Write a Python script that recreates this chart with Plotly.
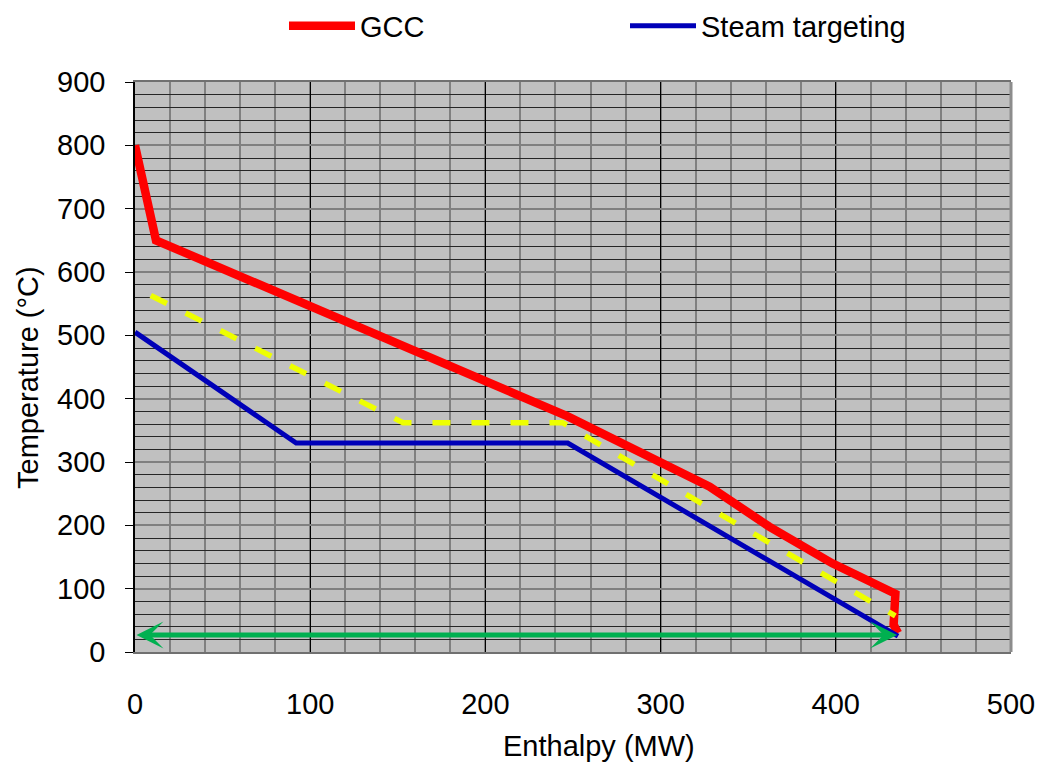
import plotly.graph_objects as go

# Grand composite curve (GCC)
gcc_h = [0, 12, 247, 328, 362, 398, 434, 433, 435.5]
gcc_t = [800, 650, 372, 261, 198, 140, 92, 43, 30]

# Steam targeting profile
steam_h = [0, 92, 247, 435.5]
steam_t = [505, 330, 330, 25]

# Shifted steam profile (dashed)
shift_h = [9, 153, 244, 434]
shift_t = [563, 362, 362, 57]

# Heat recovery span (double arrow)
span_h = [0, 435]
span_t = 27

x_ticks = [0, 100, 200, 300, 400, 500]
y_ticks = [0, 100, 200, 300, 400, 500, 600, 700, 800, 900]

FONT = "Liberation Sans, Arial, sans-serif"
FS = 29

fig = go.Figure()
fig.add_trace(go.Scatter(x=gcc_h, y=gcc_t, mode="lines", name="GCC",
                         line=dict(color="#FF0000", width=8.5)))
fig.add_trace(go.Scatter(x=steam_h, y=steam_t, mode="lines", name="Steam targeting",
                         line=dict(color="#0000B8", width=5)))
fig.add_trace(go.Scatter(x=shift_h, y=shift_t, mode="lines", showlegend=False,
                         line=dict(color="#EEFF00", width=5.5, dash="18px,21px")))

# double-headed arrow along the enthalpy span
fig.add_annotation(x=span_h[1], y=span_t, ax=span_h[0], ay=span_t,
                   xref="x", yref="y", axref="x", ayref="y", text="",
                   showarrow=True, arrowside="end+start",
                   arrowhead=3, startarrowhead=3,
                   arrowsize=0.9, startarrowsize=0.9,
                   arrowwidth=5, arrowcolor="#00B050")

# axis titles
fig.add_annotation(text="Temperature (°C)", xref="paper", yref="paper",
                   x=(28 - 135) / 876, y=(652 - 378) / 570, textangle=-90,
                   showarrow=False, xanchor="center", yanchor="middle",
                   font=dict(family=FONT, size=FS, color="black"))
fig.add_annotation(text="Enthalpy (MW)", xref="paper", yref="paper",
                   x=(599 - 135) / 876, y=(652 - 746) / 570,
                   showarrow=False, xanchor="center", yanchor="middle",
                   font=dict(family=FONT, size=FS, color="black"))

# plot frame: right edge
fig.add_shape(type="line", xref="paper", yref="paper", x0=1, x1=1, y0=0, y1=1,
              line=dict(color="#8C8C8C", width=3), layer="above")

fig.update_layout(
    width=1040, height=767,
    margin=dict(l=135, r=29, t=82, b=115, autoexpand=False),
    paper_bgcolor="white",
    plot_bgcolor="#C0C0C0",
    font=dict(family=FONT, size=FS, color="black"),
    legend=dict(orientation="h", xref="container", yref="container",
                x=284 / 1040, y=1 - 26 / 767, xanchor="left", yanchor="middle",
                itemwidth=66, entrywidth=260,
                font=dict(family=FONT, size=FS, color="black"),
                bgcolor="rgba(0,0,0,0)"),
    xaxis=dict(range=[0, 500], tickvals=x_ticks, ticks="", ticklabelstandoff=25,
               showgrid=True, gridcolor="black", gridwidth=1,
               minor=dict(dtick=20, showgrid=True, gridcolor="#808080", gridwidth=2),
               zeroline=False, showline=True, linecolor="#707070", linewidth=2,
               mirror=True, tickfont=dict(size=FS)),
    yaxis=dict(range=[0, 900], tickvals=y_ticks, ticks="outside", ticklen=8,
               tickcolor="black", tickwidth=1, ticklabelstandoff=14,
               showgrid=True, gridcolor="#808080", gridwidth=2,
               minor=dict(dtick=20, showgrid=True, gridcolor="#262626", gridwidth=1),
               zeroline=False, showline=True, linecolor="black", linewidth=1.5,
               tickfont=dict(size=FS)),
)

fig.write_html("out.html")
